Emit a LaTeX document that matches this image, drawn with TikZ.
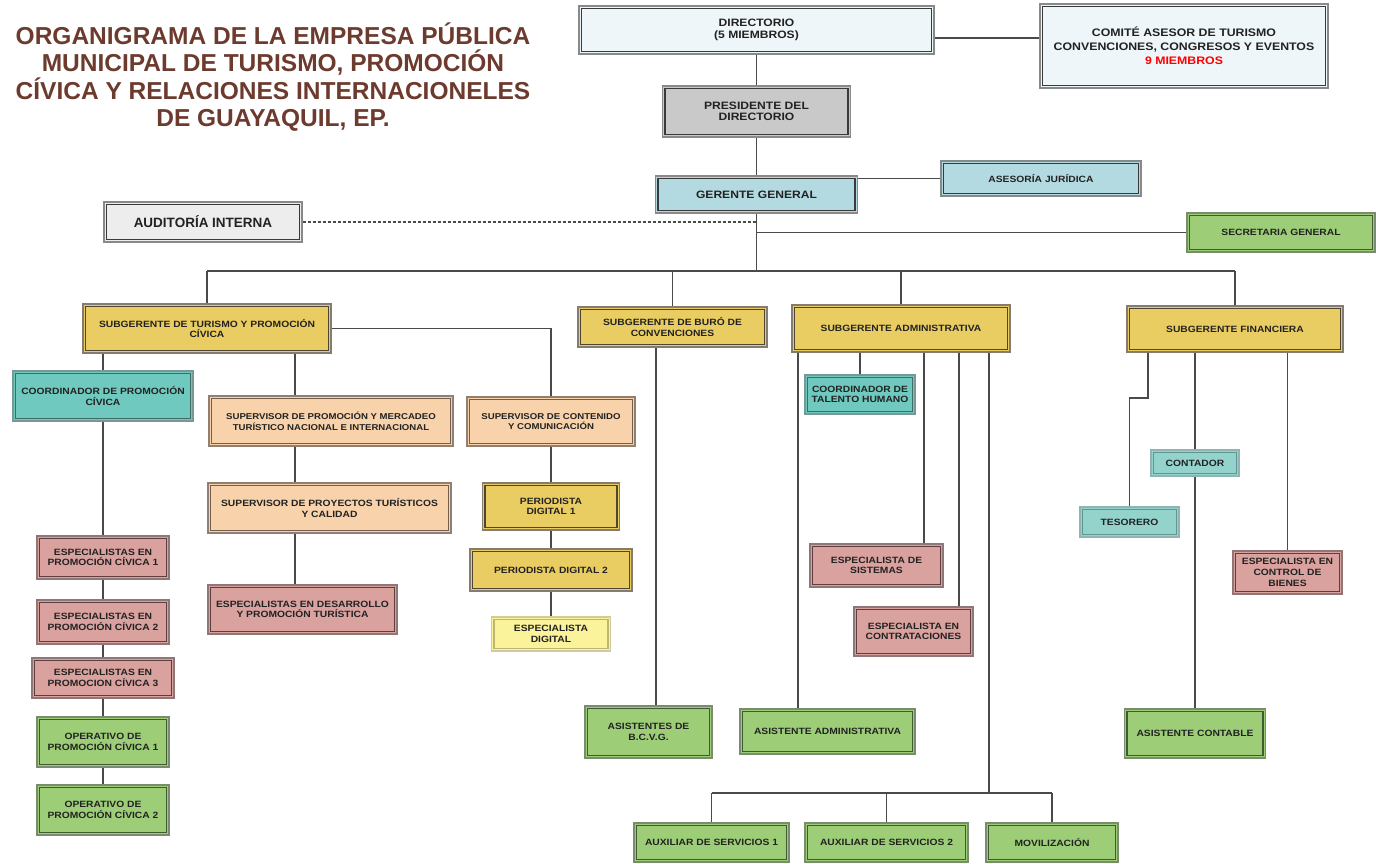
\documentclass[tikz,border=0pt]{standalone}
\usepackage{fontspec}
\setmainfont{Liberation Sans}
\newfontfamily\bxf{Liberation Sans}[FakeStretch=1.13]
\definecolor{txt}{HTML}{222222}
\definecolor{ttl}{HTML}{6D3A2E}
\definecolor{lnc}{HTML}{4A4A4A}
\definecolor{cdir}{HTML}{EEF6F9}
\definecolor{cpre}{HTML}{C9C9C9}
\definecolor{cger}{HTML}{B4DAE1}
\definecolor{caud}{HTML}{EDEDEE}
\definecolor{cgrn}{HTML}{9DCE77}
\definecolor{cyel}{HTML}{EACD62}
\definecolor{ctea}{HTML}{6FC9BF}
\definecolor{cpea}{HTML}{F7D2AA}
\definecolor{cpnk}{HTML}{D9A29E}
\definecolor{clye}{HTML}{FAF39B}
\definecolor{cltl}{HTML}{93D3CC}
\definecolor{bdrk}{HTML}{3A3A3A}
\definecolor{byel}{HTML}{4F4530}
\definecolor{bpea}{HTML}{75604F}
\definecolor{bpnk}{HTML}{5E3D3C}
\definecolor{bgrn}{HTML}{3F5C30}
\definecolor{btea}{HTML}{3E6C67}
\definecolor{bltl}{HTML}{5F9692}
\definecolor{blye}{HTML}{BDB572}
\tikzset{
  frame/.style={path picture={\draw[line width=1.3pt, draw=#1]
     ([shift={(2.4pt,-2.4pt)}]path picture bounding box.north west) rectangle
     ([shift={(-2.4pt,2.4pt)}]path picture bounding box.south east);}},
  bx/.style={rectangle, inner sep=1pt, align=center, text=txt,
    font={\bxf\bfseries\fontsize{9.1}{10.7}\selectfont}, line width=1.1pt},
  dirb/.style={bx, draw=bdrk!60, fill=cdir, frame=bdrk},
  preb/.style={bx, draw=bdrk!60, fill=cpre, frame=bdrk},
  gerb/.style={bx, draw=bdrk!60, fill=cger, frame=bdrk},
  audb/.style={bx, draw=bdrk!60, fill=caud, frame=bdrk},
  grnb/.style={bx, draw=bgrn!70, fill=cgrn, frame=bgrn},
  yelb/.style={bx, draw=byel!70, fill=cyel, frame=byel},
  teab/.style={bx, draw=btea!70, fill=ctea, frame=btea},
  peab/.style={bx, draw=bpea!80, fill=cpea, frame=bpea},
  pnkb/.style={bx, draw=bpnk!70, fill=cpnk, frame=bpnk},
  lyeb/.style={bx, draw=blye!70, fill=clye, frame=blye},
  ltlb/.style={bx, draw=bltl!70, fill=cltl, frame=bltl},
  bigf/.style={font={\bxf\bfseries\fontsize{10.7}{11.4}\selectfont}},
  comf/.style={font={\bxf\bfseries\fontsize{10.9}{14}\selectfont}},
  supf/.style={font={\bxf\bfseries\fontsize{8.5}{10.7}\selectfont}},
  ln/.style={draw=lnc, line width=1.3pt},
  dl/.style={draw=lnc, line width=1.1pt, dash pattern=on 3pt off 2pt}
}
\begin{document}
\begin{tikzpicture}[x=1pt,y=-1pt]
\useasboundingbox[fill=white] (0,0) rectangle (1376,863);

% title
\node[font={\bfseries\fontsize{24.5}{27.2}\selectfont}, text=ttl, align=center] (title) at (273,77)
  {ORGANIGRAMA DE LA EMPRESA PÚBLICA\\MUNICIPAL DE TURISMO, PROMOCIÓN\\CÍVICA Y RELACIONES INTERNACIONELES\\DE GUAYAQUIL, EP.};

% top levels
\node[dirb, bigf, minimum width=355pt, minimum height=48pt] (dir) at (756.5,30) {DIRECTORIO\\(5 MIEMBROS)};
\node[dirb, comf, minimum width=288pt, minimum height=84pt] (com) at (1184,46) {COMITÉ ASESOR DE TURISMO\\CONVENCIONES, CONGRESOS Y EVENTOS\\{\color{red}9 MIEMBROS}};
\node[preb, bigf, minimum width=188pt, minimum height=51pt] (pres) at (756.5,111.5) {PRESIDENTE DEL\\DIRECTORIO};
\node[gerb, bigf, minimum width=202pt, minimum height=37pt] (ger) at (756.5,194.5) {GERENTE GENERAL};
\node[gerb, minimum width=200pt, minimum height=35pt] (ase) at (1041,178.5) {ASESORÍA JURÍDICA};
\node[audb, font={\bfseries\fontsize{13.5}{14}\selectfont}, minimum width=198pt, minimum height=40pt] (aud) at (203,222) {AUDITORÍA INTERNA};
\node[grnb, minimum width=188pt, minimum height=39pt] (sec) at (1281,232.5) {SECRETARIA GENERAL};

% subgerencias
\node[yelb, minimum width=248pt, minimum height=49pt] (st) at (207,328.5) {SUBGERENTE DE TURISMO Y PROMOCIÓN\\CÍVICA};
\node[yelb, minimum width=189pt, minimum height=40pt] (sb) at (672.5,327) {SUBGERENTE DE BURÓ DE\\CONVENCIONES};
\node[yelb, minimum width=218pt, minimum height=47pt] (sa) at (901,328.5) {SUBGERENTE ADMINISTRATIVA};
\node[yelb, minimum width=216pt, minimum height=46pt] (sf) at (1235,329) {SUBGERENTE FINANCIERA};

% turismo branch
\node[teab, minimum width=180pt, minimum height=50pt] (cpc) at (103,396) {COORDINADOR DE PROMOCIÓN\\CÍVICA};
\node[pnkb, minimum width=132pt, minimum height=43pt] (ep1) at (103,557.5) {ESPECIALISTAS EN\\PROMOCIÓN CÍVICA 1};
\node[pnkb, minimum width=132pt, minimum height=44pt] (ep2) at (103,622) {ESPECIALISTAS EN\\PROMOCIÓN CÍVICA 2};
\node[pnkb, minimum width=142pt, minimum height=40pt] (ep3) at (103,678) {ESPECIALISTAS EN\\PROMOCION CÍVICA 3};
\node[grnb, minimum width=132pt, minimum height=50pt] (op1) at (103,742) {OPERATIVO DE\\PROMOCIÓN CÍVICA 1};
\node[grnb, minimum width=132pt, minimum height=50pt] (op2) at (103,810) {OPERATIVO DE\\PROMOCIÓN CÍVICA 2};

\node[peab, supf, minimum width=244pt, minimum height=50pt] (spm) at (331,421) {SUPERVISOR DE PROMOCIÓN Y MERCADEO\\TURÍSTICO NACIONAL E INTERNACIONAL};
\node[peab, minimum width=243pt, minimum height=50pt] (spt) at (329.5,508) {SUPERVISOR DE PROYECTOS TURÍSTICOS\\Y CALIDAD};
\node[pnkb, minimum width=189pt, minimum height=49pt] (edp) at (302.5,609.5) {ESPECIALISTAS EN DESARROLLO\\Y PROMOCIÓN TURÍSTICA};

\node[peab, supf, minimum width=168pt, minimum height=49pt] (scc) at (551,421.5) {SUPERVISOR DE CONTENIDO\\Y COMUNICACIÓN};
\node[yelb, minimum width=137pt, minimum height=47pt] (pd1) at (551,506.5) {PERIODISTA\\DIGITAL 1};
\node[yelb, minimum width=162pt, minimum height=42pt] (pd2) at (551,570) {PERIODISTA DIGITAL 2};
\node[lyeb, minimum width=119pt, minimum height=34pt] (ed) at (551,634) {ESPECIALISTA\\DIGITAL};

% buro branch
\node[grnb, minimum width=127pt, minimum height=52pt] (abcvg) at (648.5,732) {ASISTENTES DE\\B.C.V.G.};

% admin branch
\node[teab, minimum width=110pt, minimum height=39pt] (cth) at (860,394.5) {COORDINADOR DE\\TALENTO HUMANO};
\node[pnkb, minimum width=133pt, minimum height=43pt] (esis) at (876.5,565.5) {ESPECIALISTA DE\\SISTEMAS};
\node[pnkb, minimum width=119pt, minimum height=49pt] (econ) at (913.5,631.5) {ESPECIALISTA EN\\CONTRATACIONES};
\node[grnb, minimum width=175pt, minimum height=45pt] (aadm) at (827.5,731.5) {ASISTENTE ADMINISTRATIVA};
\node[grnb, minimum width=155pt, minimum height=39pt] (aux1) at (711.5,842.5) {AUXILIAR DE SERVICIOS 1};
\node[grnb, minimum width=163pt, minimum height=39pt] (aux2) at (886.5,842.5) {AUXILIAR DE SERVICIOS 2};
\node[grnb, minimum width=132pt, minimum height=39pt] (mov) at (1052,842.5) {MOVILIZACIÓN};

% finance branch
\node[ltlb, minimum width=88pt, minimum height=26pt] (cont) at (1195,463) {CONTADOR};
\node[ltlb, minimum width=99pt, minimum height=30pt] (tes) at (1129.5,522) {TESORERO};
\node[pnkb, minimum width=109pt, minimum height=43pt] (ecb) at (1287.5,572.5) {ESPECIALISTA EN\\CONTROL DE\\BIENES};
\node[grnb, minimum width=141pt, minimum height=49pt] (acont) at (1195,733.5) {ASISTENTE CONTABLE};

% helper coordinates
\coordinate (yc) at (0,38);
\coordinate (bus) at (0,271);
\coordinate (bus2) at (0,793);
\coordinate (xa) at (295,0);
\coordinate (xb) at (656,0);
\coordinate (xc1) at (798,0);
\coordinate (xc3) at (924,0);
\coordinate (xc4) at (959,0);
\coordinate (xc5) at (989,0);
\coordinate (ft) at (1148,398);

% connectors
\draw[ln] (dir.south) -- (pres.north);
\draw[ln] (pres.south) -- (ger.north);
\draw[ln] (dir.east |- yc) -- (com.west |- yc);
\draw[ln] (ger.east |- ase.west) -- (ase.west);
\draw[ln] (ger.south) -- (ger.south |- bus);
\draw[dl] (aud.east) -- (aud.east -| ger.south);
\draw[ln] (ger.south |- sec.west) -- (sec.west);
\draw[ln] (st.north |- bus) -- (sf.north |- bus);
\foreach \n in {st,sb,sa,sf} \draw[ln] (\n.north |- bus) -- (\n.north);

\draw[ln] (cpc.north |- st.south) -- (cpc.north);
\draw[ln] (cpc.south) -- (ep1.north);
\draw[ln] (ep1.south) -- (ep2.north);
\draw[ln] (ep2.south) -- (ep3.north);
\draw[ln] (ep3.south) -- (op1.north);
\draw[ln] (op1.south) -- (op2.north);
\draw[ln] (st.south -| xa) -- (spm.north -| xa);
\draw[ln] (spm.south -| xa) -- (spt.north -| xa);
\draw[ln] (spt.south -| xa) -- (edp.north -| xa);
\draw[ln] (st.east) -| (scc.north);
\draw[ln] (scc.south) -- (pd1.north);
\draw[ln] (pd1.south) -- (pd2.north);
\draw[ln] (pd2.south) -- (ed.north);

\draw[ln] (sb.south -| xb) -- (abcvg.north -| xb);

\draw[ln] (sa.south -| xc1) -- (aadm.north -| xc1);
\draw[ln] (sa.south -| cth.north) -- (cth.north);
\draw[ln] (sa.south -| xc3) -- (esis.north -| xc3);
\draw[ln] (sa.south -| xc4) -- (econ.north -| xc4);
\draw[ln] (sa.south -| xc5) -- (xc5 |- bus2);
\draw[ln] (aux1.north |- bus2) -- (mov.north |- bus2);
\foreach \n in {aux1,aux2,mov} \draw[ln] (\n.north |- bus2) -- (\n.north);

\draw[ln] (sf.south -| ft) -- (ft) -| (tes.north);
\draw[ln] (sf.south -| cont.north) -- (cont.north);
\draw[ln] (cont.south) -- (acont.north);
\draw[ln] (sf.south -| ecb.north) -- (ecb.north);
\end{tikzpicture}
\end{document}
